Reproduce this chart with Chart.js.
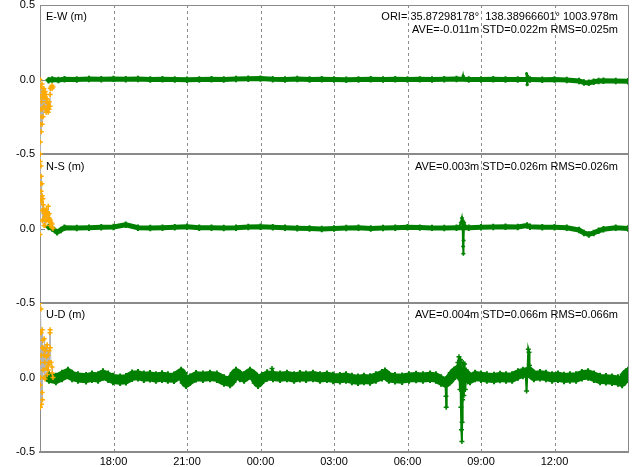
<!DOCTYPE html>
<html>
<head>
<meta charset="utf-8">
<script src="https://cdn.jsdelivr.net/npm/chart.js@4/dist/chart.umd.min.js"></script>
<style>
html,body{margin:0;padding:0;background:#fff;}
#wrap{position:relative;width:632px;height:467px;}
canvas{display:block;}
</style>
</head>
<body>
<div id="wrap"><canvas id="c" width="632" height="467"></canvas></div>
<script>
// ---------- axis ticks ----------
const xTickHours  = [15, 18, 21, 24, 27, 30, 33, 36, 39];
const xTickLabels = ['', '18:00', '21:00', '00:00', '03:00', '06:00', '09:00', '12:00', ''];
const yTickValues = [-0.5, 0, 0.5];
const yTickLabels = ['-0.5', '0.0', '0.5'];

// ---------- panel texts ----------
const panelNames = ['E-W (m)', 'N-S (m)', 'U-D (m)'];
const oriText = 'ORI= 35.87298178°  138.38966601° 1003.978m';
const statTexts = [
  'AVE=-0.011m STD=0.022m RMS=0.025m',
  'AVE=0.003m STD=0.026m RMS=0.026m',
  'AVE=0.004m STD=0.066m RMS=0.066m'
];

// ---------- initial (float) solution, orange ----------
const initT = [15.00, 15.003, 15.006, 15.01, 15.015, 15.02, 15.04, 15.045, 15.05, 15.06,
               15.08, 15.085, 15.09, 15.10, 15.12, 15.125, 15.13, 15.16, 15.165, 15.17,
               15.20, 15.205, 15.21, 15.245, 15.25, 15.26, 15.29, 15.295, 15.33, 15.335,
               15.34, 15.37, 15.375, 15.41, 15.415, 15.42, 15.45, 15.49, 15.495, 15.53];
const initEW = [0.0, -0.12, -0.3, -0.5, -0.42, -0.2, -0.05, -0.25, -0.35, -0.15,
                -0.03, -0.2, -0.3, -0.1, -0.08, -0.25, -0.12, -0.06, -0.18, -0.1,
                -0.12, -0.2, -0.08, -0.1, -0.22, -0.15, -0.13, -0.2, -0.16, -0.22,
                -0.18, -0.2, -0.15, -0.18, -0.1, -0.06, -0.05, -0.04, -0.06, -0.05];
const initNS = [-0.04, 0.2, 0.45, 0.58, 0.5, 0.3, 0.42, 0.25, 0.35, 0.18,
                0.3, 0.12, 0.22, 0.05, 0.2, 0.06, 0.16, 0.13, 0.02, 0.1,
                0.08, 0.02, 0.12, 0.1, 0.05, 0.13, 0.11, 0.06, 0.09, 0.15,
                0.05, 0.07, 0.1, 0.06, 0.02, 0.05, 0.04, 0.01, 0.03, 0.0];
const initUD = [0.5, 0.3, 0.1, -0.05, -0.2, 0.0, 0.46, 0.3, 0.15, -0.18,
                0.2, -0.1, 0.32, -0.15, 0.25, 0.05, 0.2, 0.15, 0.0, 0.26,
                0.1, -0.01, 0.18, 0.2, 0.06, 0.14, 0.22, 0.02, 0.15, 0.08,
                0.05, 0.18, 0.1, 0.3, 0.32, 0.2, 0.1, 0.07, 0.03, 0.0];

// ---------- fixed solution, green (band centre) ----------
const ewT = [15.35, 15.5, 15.75, 16, 16.5, 17, 17.5, 18, 18.5, 19,
             19.5, 20, 20.5, 21, 21.5, 22, 22.5, 23, 23.5, 24,
             24.5, 25, 25.5, 26, 26.5, 27, 27.5, 28, 28.5, 29,
             29.5, 30, 30.5, 31, 31.5, 32, 32.5, 33, 33.5, 34,
             34.5, 35, 35.5, 36, 36.5, 37, 37.2, 37.4, 37.6, 37.8,
             38, 38.5, 39];
const ewV = [-0.005, 0, -0.003, 0.002, 0, 0.003, 0.002, 0.004, 0.002, 0.003,
             0, 0.002, 0, -0.002, 0, 0.002, 0, 0.003, 0.005, 0.006,
             0.002, 0, 0.003, 0, 0.002, 0, -0.002, 0, 0.002, 0,
             0.002, 0, 0.001, 0, 0.002, 0.003, 0, 0, 0.002, 0,
             0, 0, -0.002, 0, -0.003, -0.01, -0.02, -0.022, -0.015, -0.01,
             -0.008, -0.01, -0.012];

const nsT = [15.35, 15.5, 15.7, 15.85, 16, 16.5, 17, 17.5, 18, 18.5,
             19, 19.5, 20, 20.5, 21, 21.5, 22, 22.5, 23, 23.5,
             24, 24.5, 25, 25.5, 26, 26.5, 27, 27.5, 28, 28.5,
             29, 29.5, 30, 30.5, 31, 31.5, 32, 32.5, 33, 33.5,
             34, 34.5, 34.88, 35, 35.5, 36, 36.5, 37, 37.2, 37.4,
             37.6, 37.8, 38, 38.5, 39];
const nsV = [0.01, 0, -0.025, -0.01, 0.005, 0.003, 0.005, 0.008, 0.01, 0.025,
             0.005, 0.003, 0.005, 0.008, 0.012, 0.005, 0.005, 0.003, 0.005, 0.01,
             0.012, 0.008, 0.005, 0.002, 0, -0.003, 0, 0.003, 0.005, 0,
             0.003, 0.005, 0.008, 0.006, 0.004, 0.003, 0.005, 0.005, 0.008, 0.01,
             0.012, 0.01, 0.02, 0.012, 0.008, 0.008, 0.005, -0.01, -0.03, -0.04,
             -0.03, -0.015, -0.005, 0.005, 0];

const udT = [15.37, 15.65, 15.90, 16.14, 16.31, 16.55, 16.88, 17.12, 17.37, 17.57,
             17.78, 17.98, 18.27, 18.51, 18.76, 19.00, 19.24, 19.49, 19.73, 19.98,
             20.22, 20.47, 20.76, 20.96, 21.12, 21.37, 21.65, 21.94, 22.22, 22.51,
             22.76, 23.00, 23.16, 23.33, 23.57, 23.73, 23.90, 24.06, 24.27, 24.51,
             24.80, 25.08, 25.37, 25.61, 25.86, 26.14, 26.43, 26.71, 26.96, 27.24,
             27.49, 27.73, 27.98, 28.22, 28.47, 28.71, 28.96, 29.08, 29.24, 29.49,
             29.78, 30.06, 30.35, 30.63, 30.92, 31.16, 31.37, 31.57, 31.73, 31.90,
             32.06, 32.22, 32.39, 32.55, 32.76, 33.00, 33.24, 33.53, 33.78, 34.02,
             34.27, 34.51, 34.71, 34.96, 35.16, 35.41, 35.65, 35.90, 36.14, 36.39,
             36.63, 36.88, 37.12, 37.37, 37.61, 37.86, 38.10, 38.35, 38.59, 38.76,
             38.92, 39.00];
const udV = [0, -0.01, 0.01, 0.03, 0.01, 0, -0.005, 0.005, 0, 0.02,
             0.005, -0.01, -0.015, -0.012, 0.012, 0.015, 0.005, 0.008, 0, 0.006,
             0, -0.002, 0.03, -0.035, -0.015, 0.008, 0.005, 0.01, 0.005, -0.02,
             -0.03, 0.03, 0.01, 0, 0.03, 0.01, -0.035, -0.005, 0.013, 0.01,
             0.005, 0.01, 0, 0.008, 0.005, 0.01, 0, 0.005, -0.003, -0.005,
             0, -0.01, -0.015, -0.01, -0.013, 0, 0.015, 0.025, 0, -0.005,
             -0.008, 0, 0.003, 0, 0.005, 0, -0.02, -0.035, -0.01, 0.03,
             0.05, 0, 0.02, -0.01, 0.01, 0.005, 0, -0.003, 0.003, 0,
             0, 0.02, 0.03, 0.04, 0.01, 0.015, 0.01, 0, 0.005, -0.003,
             0, 0, 0.015, 0.02, 0.005, -0.01, -0.012, -0.015, -0.02, -0.03,
             0.02, 0.03];

// ---------- fixed solution, green excursions (null = break) ----------
const ewSpikeT = [32.24, 32.27, 32.30, 33.0, 34.84, 34.86, 34.88, 34.90, 34.93];
const ewSpikeV = [0.0, 0.025, 0.0, null, 0.0, 0.04, -0.035, 0.025, 0.0];

const nsSpikeT = [32.10, 32.18, 32.22, 32.25, 32.27, 32.28, 32.29, 32.31, 32.35, 32.40];
const nsSpikeV = [0.01, 0.04, 0.07, 0.03, -0.12, -0.17, -0.08, 0.04, 0.02, 0.01];

const udSpikeT = [24.45, 24.47, 24.49, 28.0,
                  31.55, 31.57, 31.58, 31.60, 31.8,
                  32.00, 32.06, 32.10, 32.14, 32.16, 32.18, 32.20, 32.22, 32.23, 32.25,
                  32.27, 32.30, 32.33, 32.36, 32.40, 32.45, 33.5,
                  34.82, 34.86, 34.90, 34.93, 34.96, 34.98, 35.02];
const udSpikeV = [0.01, 0.06, 0.01, null,
                  -0.03, -0.125, -0.2, -0.03, null,
                  0.05, 0.1, 0.14, -0.08, 0.12, -0.2, -0.35, -0.43, -0.3, -0.15,
                  0.1, -0.12, 0.09, -0.08, 0.05, -0.03, null,
                  0.03, -0.09, 0.05, 0.19, 0.17, 0.08, 0.02];

// ---------- styles ----------
const FONT = {family: 'Liberation Sans', size: 11};
const GREEN = '#008000';
const ORANGE = '#ffaa00';
const LINEGRAY = '#b4b4b4';
const AXISGRAY = '#8a8a8a';
const GRIDGRAY = '#8c8c8c';
const DASH = [3, 3];

const pts = (ts, vs) => ts.map((t, i) => ({x: t, y: vs[i]}));

function bandSet(ts, vs, axis, w, r) {
  return {data: pts(ts, vs), yAxisID: axis, borderColor: GREEN, borderWidth: w,
          pointStyle: 'cross', pointRadius: r, pointBorderColor: GREEN, pointBorderWidth: 2,
          borderJoinStyle: 'round', borderCapStyle: 'round', tension: 0, spanGaps: false};
}
function spikeSet(ts, vs, axis, r) {
  return {data: pts(ts, vs), yAxisID: axis, borderColor: GREEN, borderWidth: 2,
          pointStyle: 'cross', pointRadius: r, pointBorderColor: GREEN, pointBorderWidth: 1.5,
          pointBackgroundColor: GREEN, spanGaps: false, tension: 0};
}
function initSet(ts, vs, axis) {
  return {data: pts(ts, vs), yAxisID: axis, borderColor: LINEGRAY, borderWidth: 1,
          pointStyle: 'cross', pointRadius: 2.5, pointBorderColor: ORANGE, pointBorderWidth: 1.5,
          pointBackgroundColor: ORANGE, tension: 0};
}

function yScale(showTop, topThin) {
  return {
    type: 'linear', position: 'left', stack: 'panels', stackWeight: 1,
    min: -0.5, max: 0.5,
    afterBuildTicks: s => { s.ticks = yTickValues.map(v => ({value: v})); },
    ticks: {
      font: FONT, color: '#000', padding: 5, autoSkip: false,
      callback: (v) => {
        const i = yTickValues.indexOf(v);
        if (v === 0.5 && !showTop) return '';
        return yTickLabels[i];
      }
    },
    grid: {
      drawTicks: false,
      color: ctx => (ctx.tick && ctx.tick.value === 0) ? 'rgba(0,0,0,0)' : AXISGRAY,
      lineWidth: ctx => (ctx.tick && ctx.tick.value === 0.5 && topThin) ? 1 : 2
    },
    border: {display: true, color: AXISGRAY, width: 1},
    afterFit: s => { s.width = 40; s.paddingTop = 0; s.paddingBottom = 0; }
  };
}

// dashed time grid (at the x scale's tick positions), right frame line,
// small inward ticks at 0.0, and panel texts
const decor = {
  id: 'decor',
  beforeDatasetsDraw(chart) {
    const ctx = chart.ctx, a = chart.chartArea, xs = chart.scales.x;
    const axes = [chart.scales.yEW, chart.scales.yNS, chart.scales.yUD];
    ctx.save();
    ctx.strokeStyle = GRIDGRAY;
    ctx.lineWidth = 1;
    ctx.setLineDash(DASH);
    ctx.beginPath();
    xTickHours.forEach(h => {
      if (h === xs.min || h === xs.max) return;
      const x = Math.round(xs.getPixelForValue(h)) + 0.5;
      ctx.moveTo(x, a.top);
      ctx.lineTo(x, a.bottom);
    });
    ctx.stroke();
    ctx.setLineDash([]);
    ctx.strokeStyle = AXISGRAY;
    ctx.beginPath();
    ctx.moveTo(a.right + 0.5, a.top);
    ctx.lineTo(a.right + 0.5, a.bottom);
    axes.forEach(s => {
      const y = Math.round(s.getPixelForValue(0)) + 0.5;
      ctx.moveTo(a.left, y);
      ctx.lineTo(a.left + 5, y);
    });
    ctx.stroke();
    ctx.restore();
  },
  afterDraw(chart) {
    const ctx = chart.ctx, a = chart.chartArea;
    const axes = [chart.scales.yEW, chart.scales.yNS, chart.scales.yUD];
    ctx.save();
    ctx.fillStyle = '#000';
    ctx.font = '11px "Liberation Sans"';
    ctx.textBaseline = 'middle';
    const offs = [12, 13, 12];
    axes.forEach((s, i) => {
      const y = s.top + offs[i];
      ctx.textAlign = 'left';
      ctx.fillText(panelNames[i], a.left + 6, y);
      ctx.textAlign = 'right';
      if (i === 0) {
        ctx.fillText(oriText, a.right - 10, y);
        ctx.fillText(statTexts[i], a.right - 10, y + 13);
      } else {
        ctx.fillText(statTexts[i], a.right - 10, y);
      }
    });
    ctx.restore();
  }
};

new Chart(document.getElementById('c'), {
  type: 'line',
  data: {
    datasets: [
      initSet(initT, initEW, 'yEW'),
      initSet(initT, initNS, 'yNS'),
      initSet(initT, initUD, 'yUD'),
      spikeSet(ewSpikeT, ewSpikeV, 'yEW', 1.5),
      spikeSet(nsSpikeT, nsSpikeV, 'yNS', 2),
      spikeSet(udSpikeT, udSpikeV, 'yUD', 2.5),
      bandSet(ewT, ewV, 'yEW', 5, 3.2),
      bandSet(nsT, nsV, 'yNS', 5, 3.2),
      bandSet(udT, udV, 'yUD', 10, 6.3)
    ]
  },
  options: {
    responsive: false,
    animation: false,
    devicePixelRatio: 1,
    layout: {autoPadding: false, padding: {left: 0, right: 4, top: 5, bottom: 0}},
    plugins: {legend: {display: false}, tooltip: {enabled: false}},
    scales: {
      x: {
        type: 'linear', position: 'bottom', min: 15, max: 39,
        afterBuildTicks: s => { s.ticks = xTickHours.map(v => ({value: v})); },
        ticks: {
          font: FONT, color: '#000', padding: 3, maxRotation: 0, autoSkip: false,
          callback: v => xTickLabels[xTickHours.indexOf(v)]
        },
        grid: {drawTicks: false, drawOnChartArea: false},
        border: {display: true, color: AXISGRAY, width: 2},
        afterFit: s => { s.height = 15; s.paddingLeft = 0; s.paddingRight = 0; }
      },
      yUD: yScale(false, false),
      yNS: yScale(false, false),
      yEW: yScale(true, true)
    }
  },
  plugins: [decor]
});
</script>
</body>
</html>
